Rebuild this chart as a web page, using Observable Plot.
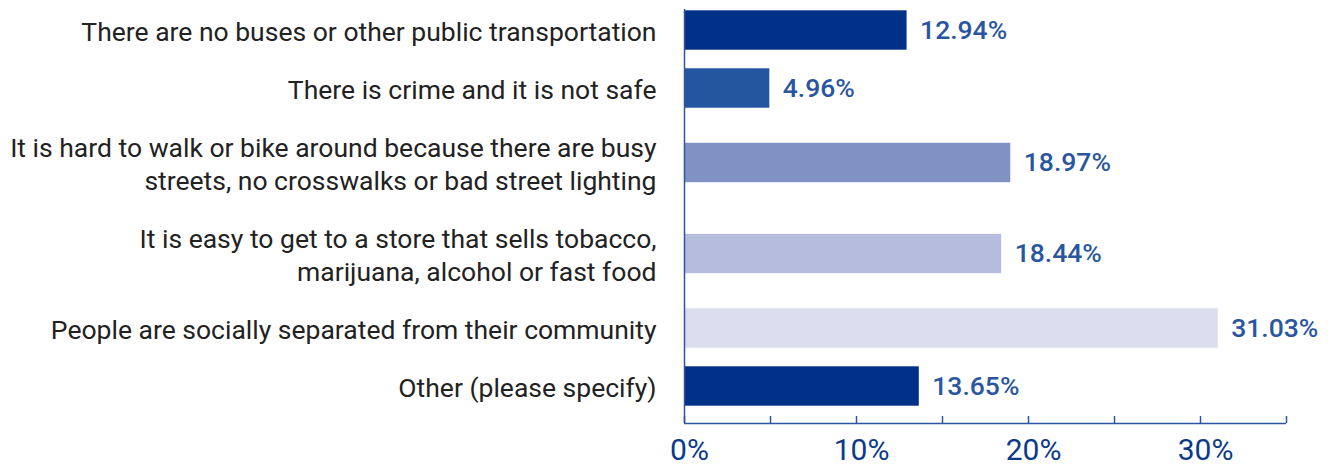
<!DOCTYPE html>
<html>
<head>
<meta charset="utf-8">
<script src="https://cdn.jsdelivr.net/npm/d3@7"></script>
<script src="https://cdn.jsdelivr.net/npm/@observablehq/plot@0.6"></script>
<style>
  html, body { margin: 0; padding: 0; background: #fff; }
</style>
</head>
<body>
<div id="chart"></div>
<script>
const categories = [
  "There are no buses or other public transportation",
  "There is crime and it is not safe",
  "It is hard to walk or bike around because there are busy\nstreets, no crosswalks or bad street lighting",
  "It is easy to get to a store that sells tobacco,\nmarijuana, alcohol or fast food",
  "People are socially separated from their community",
  "Other (please specify)"
];
const values = [12.94, 4.96, 18.97, 18.44, 31.03, 13.65];
const barColors = ["#003087", "#24559f", "#8291c4", "#b5bcdc", "#dbdcee", "#003087"];
const xTickValues = [0, 10, 20, 30];
const xMinorTicks = [0, 5, 10, 15, 20, 25, 30, 35];
const xDomain = [0, 35];

// layout (style) constants
const W = 1330, H = 467;
const marginLeft = 684, marginRight = 44, marginTop = 0, marginBottom = 44;
const innerH = H - marginTop - marginBottom;
const LINE = 33, GAP = 25, PAD_TOP = 1, BAR_H = 39.4;
const LABEL_FS = 26.5;

// build rows: row height depends on number of label lines
let cursor = PAD_TOP;
const rows = categories.map((label, i) => {
  const lines = label.split("\n").length;
  const h = lines * LINE + GAP;
  const center = cursor + h / 2;
  cursor += h;
  return {
    label, value: values[i], color: barColors[i],
    yc: center, y1: center - BAR_H / 2, y2: center + BAR_H / 2
  };
});

const chart = Plot.plot({
  width: W, height: H,
  marginLeft, marginRight, marginTop, marginBottom,
  style: { fontFamily: "Roboto, sans-serif", background: "#fff" },
  x: { domain: xDomain, label: null },
  y: { domain: [0, innerH], reverse: true, axis: null },
  marks: [
    Plot.rectX(rows, { x1: 0, x2: "value", y1: "y1", y2: "y2", fill: "color" }),
    Plot.text(rows, {
      x: 0, y: "yc", text: "label", textAnchor: "end", dx: -28,
      fontSize: LABEL_FS, fill: "#222", lineHeight: LINE / LABEL_FS
    }),
    Plot.text(rows, {
      x: "value", y: "yc", text: d => d.value.toFixed(2) + "%",
      textAnchor: "start", dx: 13, fontSize: 26.5, fontWeight: 500, fill: "#2a56a0"
    }),
    Plot.ruleX([0], { stroke: "#2a56a0", strokeWidth: 1.5, insetTop: 9 }),
    Plot.ruleY([innerH], { stroke: "#2a56a0", strokeWidth: 1.5 }),
    Plot.tickX(xMinorTicks, { x: d => d, stroke: "#2a56a0", strokeWidth: 1.5, insetTop: innerH - 7 }),
    Plot.axisX({
      ticks: xTickValues, tickSize: 0, tickPadding: 15, dx: 5,
      tickFormat: d => d + "%", fontSize: 30, color: "#0b3a8a", label: null
    })
  ]
});
document.getElementById("chart").appendChild(chart);
</script>
</body>
</html>
